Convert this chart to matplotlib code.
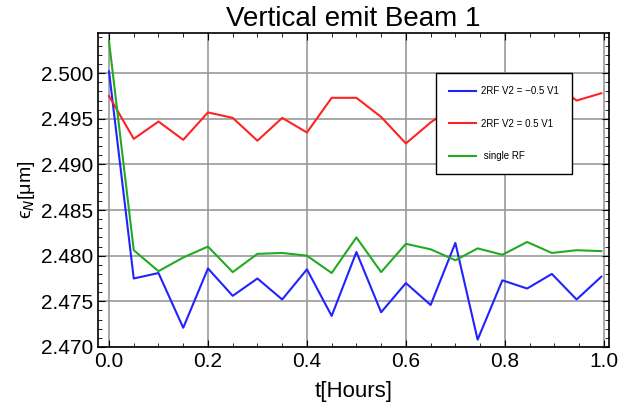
import numpy as np
import matplotlib
matplotlib.use('Agg')
import matplotlib.pyplot as plt
from matplotlib.ticker import MultipleLocator, FormatStrFormatter

plt.rcParams['font.family'] = ['Liberation Sans', 'DejaVu Sans']

t = [0.0, 0.05, 0.10, 0.15, 0.20, 0.25, 0.30, 0.35, 0.40, 0.45, 0.50,
     0.55, 0.60, 0.65, 0.70, 0.745, 0.795, 0.845, 0.895, 0.945, 0.995]

neg_half = [2.5002, 2.4775, 2.4781, 2.4721, 2.4786, 2.4756, 2.4775, 2.4752,
            2.4785, 2.4734, 2.4804, 2.4738, 2.4770, 2.4746, 2.4814, 2.4708,
            2.4773, 2.4764, 2.4780, 2.4752, 2.4777]
pos_half = [2.4975, 2.4928, 2.4947, 2.4927, 2.4957, 2.4951, 2.4926, 2.4951,
            2.4935, 2.4973, 2.4973, 2.4952, 2.4923, 2.4946, 2.4965, 2.4960,
            2.4972, 2.4968, 2.4990, 2.4970, 2.4978]
single = [2.5035, 2.4806, 2.4783, 2.4798, 2.4810, 2.4782, 2.4802, 2.4803,
          2.4800, 2.4781, 2.4820, 2.4782, 2.4813, 2.4807, 2.4795, 2.4808,
          2.4801, 2.4815, 2.4803, 2.4806, 2.4805]

fig = plt.figure(figsize=(6.25, 4.18), dpi=100)
ax = fig.add_axes([0.157, 0.170, 0.817, 0.751])

ax.plot(t, neg_half, color='#2222ff', lw=1.5, label='2RF V2 = \u22120.5 V1')
ax.plot(t, pos_half, color='#ff2222', lw=1.5, label='2RF V2 = 0.5 V1')
ax.plot(t, single, color='#22aa22', lw=1.5, label=' single RF')

ax.set_xlim(-0.022, 1.01)
ax.set_ylim(2.470, 2.5044)
ax.xaxis.set_major_locator(MultipleLocator(0.2))
ax.xaxis.set_minor_locator(MultipleLocator(0.05))
ax.yaxis.set_major_locator(MultipleLocator(0.005))
ax.yaxis.set_minor_locator(MultipleLocator(0.001))
ax.yaxis.set_major_formatter(FormatStrFormatter('%.3f'))
ax.xaxis.set_major_formatter(FormatStrFormatter('%.1f'))
ax.tick_params(which='both', direction='in', top=True, right=True,
               labelsize=15)
ax.tick_params(which='major', length=5)
ax.tick_params(which='minor', length=3)
ax.grid(True, which='major', color='#999999', lw=1.2)
for s in ax.spines.values():
    s.set_linewidth(1.2)

ax.set_title('Vertical emit Beam 1', fontsize=20, pad=5)
ax.set_xlabel('t[Hours]', fontsize=16, labelpad=7)
ax.set_ylabel('\u03f5$_N$[\u03bcm]', fontsize=14, labelpad=3)

leg = ax.legend(loc='upper left', bbox_to_anchor=(0.661, 0.872), fontsize=7,
                frameon=True, fancybox=False, edgecolor='black',
                borderpad=1.35, labelspacing=2.3, handlelength=2.8,
                handletextpad=0.5, borderaxespad=0)
leg.get_frame().set_linewidth(1.0)
leg.get_frame().set_alpha(1)

fig.savefig('out.png', dpi=100)
